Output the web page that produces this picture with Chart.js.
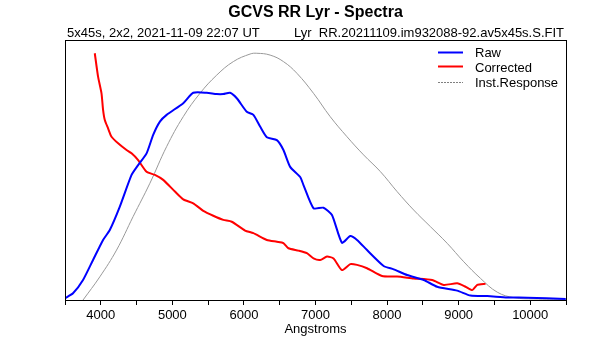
<!DOCTYPE html>
<html>
<head>
<meta charset="utf-8">
<script src="https://cdn.jsdelivr.net/npm/chart.js@4/dist/chart.umd.min.js"></script>
<style>
  html, body { margin: 0; padding: 0; background: #FFFFFF; }
  #wrap { width: 615px; height: 340px; position: relative; }
</style>
</head>
<body>
<div id="wrap"><canvas id="spectra" width="615" height="340"></canvas></div>
<script>
const TITLE = 'GCVS RR Lyr - Spectra'
const SUB_LEFT = '5x45s, 2x2, 2021-11-09 22:07 UT'
const SUB_RIGHT = 'Lyr  RR.20211109.im932088-92.av5x45s.S.FIT'

// Raw spectrum (relative flux)
const rawWave = [3500, 3612, 3752, 3892, 4032, 4126, 4266, 4430, 4522, 4640, 4732, 4826, 4920,
  5152, 5292, 5480, 5620, 5712, 5806, 5900, 6040, 6132, 6226, 6320, 6460, 6552, 6646, 6786,
  6832, 6972, 7112, 7230, 7370, 7486, 7580, 7720, 7952, 8092, 8280, 8512, 8700, 8980, 9166,
  9400, 9680, 9960, 10496]
const rawFlux = [0.007, 0.026, 0.077, 0.154, 0.231, 0.269, 0.359, 0.481, 0.519, 0.564, 0.635, 0.686, 0.712,
  0.757, 0.797, 0.797, 0.792, 0.792, 0.797, 0.776, 0.724, 0.712, 0.667, 0.626, 0.615, 0.577, 0.512, 0.473,
  0.442, 0.353, 0.355, 0.327, 0.220, 0.246, 0.231, 0.192, 0.131, 0.118, 0.096, 0.077, 0.051, 0.036, 0.017,
  0.015, 0.010, 0.009, 0.004]

// Response-corrected spectrum
const corrWave = [3916, 3962, 4010, 4032, 4056, 4102, 4150, 4242, 4360, 4430, 4522, 4640, 4756, 4872,
  5036, 5152, 5292, 5432, 5572, 5712, 5830, 6016, 6132, 6320, 6460, 6552, 6622, 6762, 6880, 6972,
  7066, 7160, 7252, 7370, 7486, 7580, 7720, 7930, 8140, 8372, 8630, 8792, 8980, 9096, 9190, 9260, 9376]
const corrFlux = [0.949, 0.859, 0.795, 0.731, 0.692, 0.660, 0.628, 0.603, 0.577, 0.564, 0.538, 0.493, 0.481, 0.462,
  0.417, 0.387, 0.372, 0.343, 0.324, 0.308, 0.301, 0.267, 0.257, 0.231, 0.224, 0.219, 0.199, 0.190, 0.180, 0.160,
  0.154, 0.167, 0.160, 0.115, 0.138, 0.135, 0.122, 0.092, 0.090, 0.083, 0.077, 0.058, 0.064, 0.051, 0.038, 0.058, 0.062]

// Instrument response curve
const respWave = [3752, 3986, 4220, 4452, 4686, 4920, 5152, 5386, 5620, 5852, 6086, 6180, 6366, 6552,
  6740, 6972, 7206, 7440, 7672, 7906, 8140, 8372, 8606, 8840, 9072, 9306, 9540, 9772, 10052, 10496]
const respFlux = [0.000, 0.089, 0.192, 0.321, 0.449, 0.590, 0.705, 0.795, 0.865, 0.917, 0.946, 0.949, 0.942, 0.917,
  0.872, 0.795, 0.705, 0.628, 0.558, 0.494, 0.417, 0.346, 0.282, 0.218, 0.147, 0.083, 0.030, 0.009, 0.004, 0.003]

const X_MIN = 3500
const X_MAX = 10500
const X_STEP = 500

const FONT = "'Liberation Sans', Arial, sans-serif"

const toPoints = (xs, ys) => xs.map((x, i) => ({ x, y: ys[i] }))

// Frame, title lines and the in-plot legend
const decorPlugin = {
  id: 'decor',
  afterDraw(chart) {
    const { ctx, chartArea: a } = chart
    ctx.save()
    ctx.strokeStyle = '#000000'
    ctx.lineWidth = 1
    ctx.strokeRect(a.left + 0.5, a.top + 0.5, a.right - a.left, a.bottom - a.top)

    ctx.fillStyle = '#000000'
    ctx.textBaseline = 'alphabetic'
    ctx.textAlign = 'center'
    ctx.font = `bold 16px ${FONT}`
    ctx.fillText(TITLE, (a.left + a.right) / 2, 17)

    ctx.font = `13px ${FONT}`
    ctx.textAlign = 'left'
    ctx.fillText(SUB_LEFT, a.left + 2, 37)
    ctx.textAlign = 'right'
    ctx.fillText(SUB_RIGHT, a.right - 2, 37)

    // legend
    const lx = 438, tx = 475
    const lineY = [52.5, 66.5, 82.5]
    const textY = [57, 72, 87]
    chart.data.datasets.forEach((ds, i) => {
      ctx.beginPath()
      ctx.strokeStyle = i === 2 ? '#808080' : ds.borderColor
      ctx.lineWidth = i === 2 ? 1 : 2
      ctx.setLineDash(i === 2 ? [2, 1] : [])
      ctx.moveTo(lx, lineY[i])
      ctx.lineTo(lx + 25, lineY[i])
      ctx.stroke()
      ctx.setLineDash([])
      ctx.fillStyle = '#000000'
      ctx.textAlign = 'left'
      ctx.font = `13px ${FONT}`
      ctx.fillText(ds.label, tx, textY[i])
    })
    ctx.restore()
  }
}

new Chart(document.getElementById('spectra').getContext('2d'), {
  type: 'line',
  data: {
    datasets: [
      {
        label: 'Raw',
        data: toPoints(rawWave, rawFlux),
        borderColor: '#0000FF',
        borderWidth: 2,
        tension: 0.2,
      },
      {
        label: 'Corrected',
        data: toPoints(corrWave, corrFlux),
        borderColor: '#FF0000',
        borderWidth: 2,
        tension: 0.2,
      },
      {
        label: 'Inst.Response',
        data: toPoints(respWave, respFlux),
        borderColor: '#999999',
        borderWidth: 1,
        tension: 0.4,
      },
    ]
  },
  options: {
    responsive: false,
    animation: false,
    events: [],
    elements: { point: { radius: 0 } },
    layout: { padding: { top: 40, left: 65, right: 49, bottom: 0 } },
    scales: {
      x: {
        type: 'linear',
        min: X_MIN,
        max: X_MAX,
        afterBuildTicks(scale) {
          const ticks = []
          for (let v = X_MIN; v <= X_MAX; v += X_STEP) ticks.push({ value: v })
          scale.ticks = ticks
        },
        afterFit(scale) { scale.height = 40 },
        grid: {
          drawOnChartArea: false,
          drawTicks: true,
          tickLength: 5,
          color: '#000000',
        },
        border: { display: true, color: '#000000' },
        ticks: {
          color: '#000000',
          font: { family: FONT, size: 13 },
          padding: 3,
          maxRotation: 0,
          autoSkip: false,
          callback: v => (v % 1000 === 0 && v > X_MIN && v < X_MAX) ? String(v) : '',
        },
        title: {
          display: true,
          text: 'Angstroms',
          color: '#000000',
          font: { family: FONT, size: 13 },
          padding: { top: 0, bottom: 3 },
        },
      },
      y: {
        min: 0,
        max: 1,
        afterFit(scale) { scale.width = 0 },
        grid: { display: false },
        border: { display: false },
        ticks: { display: false },
      }
    },
    plugins: {
      legend: { display: false },
      title: { display: false },
      tooltip: { enabled: false },
    }
  },
  plugins: [decorPlugin]
})
</script>
</body>
</html>
